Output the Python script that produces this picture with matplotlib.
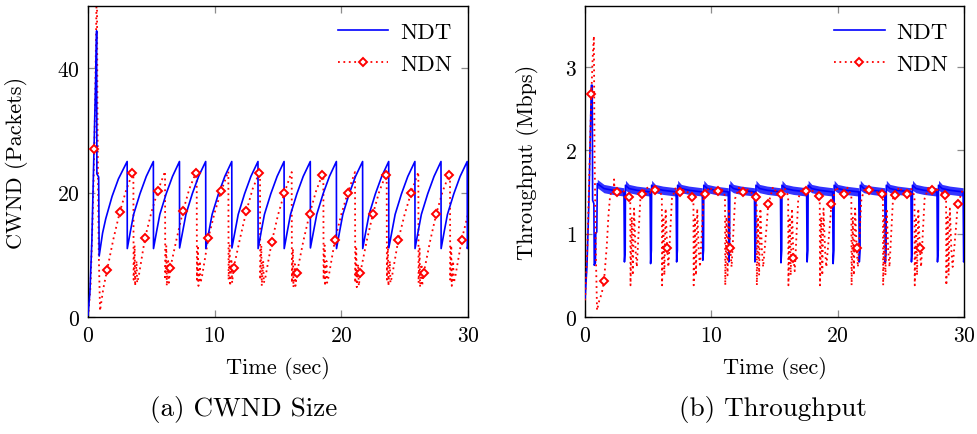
import numpy as np
import matplotlib
matplotlib.use("Agg")
import matplotlib.pyplot as plt
from matplotlib.lines import Line2D

plt.rcParams['font.family'] = 'cmr10'
plt.rcParams['mathtext.fontset'] = 'cm'
plt.rcParams['axes.formatter.use_mathtext'] = True

# ---- (a) CWND: NDT (blue solid) ----
ndt_cwnd_t = [
    0.0, 0.15, 0.3, 0.45, 0.6, 0.68, 0.7, 0.84, 0.88,
    1.15, 1.4, 1.9, 2.4, 3.09,
    3.10, 3.35, 3.60, 4.10, 4.60, 5.16,
    5.17, 5.42, 5.67, 6.17, 6.67, 7.22,
    7.23, 7.48, 7.73, 8.23, 8.73, 9.29,
    9.30, 9.55, 9.80, 10.30, 10.80, 11.35,
    11.36, 11.61, 11.86, 12.36, 12.86, 13.42,
    13.43, 13.68, 13.93, 14.43, 14.93, 15.48,
    15.49, 15.74, 15.99, 16.49, 16.99, 17.55,
    17.56, 17.81, 18.06, 18.56, 19.06, 19.61,
    19.62, 19.87, 20.12, 20.62, 21.12, 21.68,
    21.69, 21.94, 22.19, 22.69, 23.19, 23.74,
    23.75, 24.00, 24.25, 24.75, 25.25, 25.81,
    25.82, 26.07, 26.32, 26.82, 27.32, 27.87,
    27.88, 28.13, 28.38, 28.88, 29.38, 29.94,
    29.95, 30.0]
ndt_cwnd = [
    0.3, 4, 12, 25, 38, 46, 23, 22.5, 9.8,
    13.5, 15.8, 19.4, 22.2, 25.0,
    11.0, 13.8, 16.5, 19.8, 22.6, 25.0,
    11.0, 13.8, 16.5, 19.8, 22.6, 25.0,
    11.1, 13.8, 16.5, 19.8, 22.6, 25.0,
    11.0, 13.8, 16.5, 19.8, 22.6, 25.0,
    11.1, 13.8, 16.5, 19.8, 22.6, 25.0,
    11.0, 13.8, 16.5, 19.8, 22.6, 25.0,
    11.0, 13.8, 16.5, 19.8, 22.6, 25.0,
    11.1, 13.8, 16.5, 19.8, 22.6, 25.0,
    11.0, 13.8, 16.5, 19.8, 22.6, 25.0,
    11.0, 13.8, 16.5, 19.8, 22.6, 25.0,
    11.1, 13.8, 16.5, 19.8, 22.6, 25.0,
    11.0, 13.8, 16.5, 19.8, 22.6, 25.0,
    11.0, 13.8, 16.5, 19.8, 22.6, 25.0,
    11.0, 11.5]

# ---- (a) CWND: NDN (red dotted, markers at x.5 s) ----
ndn_cwnd_t = [
    0.0, 0.2, 0.35, 0.5, 0.6, 0.7, 0.75, 0.85, 0.95, 1.2, 1.5, 2.0, 2.5, 3.0, 3.5,
    3.58, 3.6, 3.68, 3.72, 3.83, 3.88, 4.0, 4.5, 5.0, 5.5, 6.0,
    6.08, 6.1, 6.18, 6.22, 6.33, 6.38, 6.5, 7.0, 7.5, 8.0, 8.5,
    8.58, 8.6, 8.68, 8.72, 8.83, 8.88, 9.0, 9.5, 10.0, 10.5, 11.0,
    11.08, 11.1, 11.18, 11.22, 11.33, 11.38, 11.5, 12.0, 12.5, 13.0, 13.5,
    13.58, 13.6, 13.68, 13.72, 13.83, 13.88, 14.0, 14.5, 15.0, 15.5, 16.0,
    16.08, 16.1, 16.18, 16.22, 16.33, 16.38, 16.5, 17.0, 17.5, 18.0, 18.5,
    18.58, 18.6, 18.68, 18.72, 18.83, 18.88, 19.0, 19.5, 20.0, 20.5, 21.0,
    21.08, 21.1, 21.18, 21.22, 21.33, 21.38, 21.5, 22.0, 22.5, 23.0, 23.5,
    23.58, 23.6, 23.68, 23.72, 23.83, 23.88, 24.0, 24.5, 25.0, 25.5, 26.0,
    26.08, 26.1, 26.18, 26.22, 26.33, 26.38, 26.5, 27.0, 27.5, 28.0, 28.5,
    28.58, 28.6, 28.68, 28.72, 28.83, 28.88, 29.0, 29.5, 30.0]
ndn_cwnd = [
    0.0, 5, 15, 27, 40, 55, 30, 10, 1.0, 4.5, 7.5, 12.5, 16.8, 20.3, 23.1,
    23.4, 6.0, 11.5, 5.0, 9.0, 5.5, 6.5, 12.7, 16.8, 20.2, 23.0,
    23.4, 6.0, 11.5, 5.0, 9.0, 5.5, 7.9, 12.6, 17.0, 20.6, 23.1,
    23.4, 6.0, 11.5, 5.0, 9.0, 5.5, 6.5, 12.7, 16.8, 20.2, 23.0,
    23.4, 6.0, 11.5, 5.0, 9.0, 5.5, 7.9, 12.6, 17.0, 20.6, 23.1,
    23.4, 6.0, 11.5, 5.0, 9.0, 5.5, 6.3, 12.0, 16.4, 19.9, 22.9,
    23.3, 5.5, 11.0, 4.8, 8.5, 5.0, 7.1, 12.2, 16.6, 20.2, 22.9,
    23.3, 6.0, 11.5, 5.0, 9.0, 5.5, 6.5, 12.4, 16.5, 19.9, 22.8,
    23.3, 5.5, 11.0, 4.8, 8.5, 5.0, 7.1, 12.2, 16.6, 20.2, 22.8,
    23.3, 6.0, 11.5, 5.0, 9.0, 5.5, 6.5, 12.4, 16.5, 19.9, 22.8,
    23.3, 5.5, 11.0, 4.8, 8.5, 5.0, 7.0, 12.1, 16.6, 20.2, 22.8,
    23.3, 6.0, 11.5, 5.0, 9.0, 5.5, 6.5, 12.4, 16.5]

# ---- (b) Throughput: NDT (blue, with jitter band half-width) ----
ndt_tput_t = [
    0.0, 0.15, 0.3, 0.42, 0.5, 0.57, 0.6, 0.7, 0.73, 0.82, 0.85, 0.93, 0.97, 1.5, 2.2,
    3.08, 3.12, 3.18, 3.20, 3.49, 4.09,
    5.15, 5.19, 5.25, 5.27, 5.56, 6.16,
    7.21, 7.25, 7.31, 7.33, 7.62, 8.22,
    9.28, 9.32, 9.38, 9.40, 9.69, 10.29,
    11.34, 11.38, 11.44, 11.46, 11.75, 12.35,
    13.41, 13.45, 13.51, 13.53, 13.82, 14.42,
    15.47, 15.51, 15.57, 15.59, 15.88, 16.48,
    17.54, 17.58, 17.64, 17.66, 17.95, 18.55,
    19.60, 19.64, 19.70, 19.72, 20.01, 20.61,
    21.67, 21.71, 21.77, 21.79, 22.08, 22.68,
    23.73, 23.77, 23.83, 23.85, 24.14, 24.74,
    25.80, 25.84, 25.90, 25.92, 26.21, 26.81,
    27.86, 27.90, 27.96, 27.98, 28.27, 28.87,
    29.93, 29.97, 30.0]
ndt_tput = [
    0.22, 0.6, 1.35, 2.2, 2.78, 2.78, 1.4, 1.36, 0.62, 0.65, 1.0, 1.02, 1.6, 1.54, 1.52,
    1.5, 0.66, 0.8, 1.58, 1.54, 1.52,
    1.5, 0.64, 0.8, 1.58, 1.54, 1.52,
    1.5, 0.66, 0.8, 1.58, 1.54, 1.52,
    1.5, 0.68, 0.8, 1.58, 1.54, 1.52,
    1.5, 0.66, 0.8, 1.58, 1.54, 1.52,
    1.5, 0.66, 0.8, 1.58, 1.54, 1.52,
    1.5, 0.65, 0.8, 1.58, 1.54, 1.52,
    1.5, 0.66, 0.8, 1.58, 1.54, 1.52,
    1.5, 0.64, 0.8, 1.58, 1.54, 1.52,
    1.5, 0.66, 0.8, 1.58, 1.54, 1.52,
    1.5, 0.65, 0.8, 1.58, 1.54, 1.52,
    1.5, 0.66, 0.8, 1.58, 1.54, 1.52,
    1.5, 0.66, 0.8, 1.58, 1.54, 1.52,
    1.5, 0.66, 0.7]
ndt_tput_spread = [
    0, 0, 0, 0, 0, 0, 0, 0, 0, 0, 0, 0, 0.05, 0.05, 0.05,
    0.05, 0, 0, 0.06, 0.05, 0.05,
    0.05, 0, 0, 0.06, 0.05, 0.05,
    0.05, 0, 0, 0.06, 0.05, 0.05,
    0.05, 0, 0, 0.06, 0.05, 0.05,
    0.05, 0, 0, 0.06, 0.05, 0.05,
    0.05, 0, 0, 0.06, 0.05, 0.05,
    0.05, 0, 0, 0.06, 0.05, 0.05,
    0.05, 0, 0, 0.06, 0.05, 0.05,
    0.05, 0, 0, 0.06, 0.05, 0.05,
    0.05, 0, 0, 0.06, 0.05, 0.05,
    0.05, 0, 0, 0.06, 0.05, 0.05,
    0.05, 0, 0, 0.06, 0.05, 0.05,
    0.05, 0, 0, 0.06, 0.05, 0.05,
    0.05, 0, 0]

# ---- (b) Throughput: NDN (red dotted, markers at x.5 s) ----
ndn_tput_t = [
    0.0, 0.2, 0.35, 0.5, 0.6, 0.7, 0.75, 0.85, 0.95, 1.13, 1.32, 1.5, 1.72, 1.85, 1.98,
    2.1, 2.28, 2.3, 2.33, 2.5, 2.9, 3.2, 3.5,
    3.58, 3.6, 3.7, 3.78, 3.88, 4.0, 4.1, 4.38, 4.5, 4.88, 5.18, 5.5, 5.78, 6.03,
    6.08, 6.1, 6.2, 6.28, 6.38, 6.5, 6.6, 6.88, 7.18, 7.5, 7.88, 8.18, 8.5,
    8.58, 8.6, 8.7, 8.78, 8.88, 9.0, 9.1, 9.38, 9.5, 9.88, 10.18, 10.5, 10.78, 11.03,
    11.08, 11.1, 11.2, 11.28, 11.38, 11.5, 11.6, 11.88, 12.18, 12.5, 12.88, 13.18, 13.5,
    13.58, 13.6, 13.7, 13.78, 13.88, 14.0, 14.1, 14.38, 14.5, 14.88, 15.18, 15.5, 15.78, 16.03,
    16.08, 16.1, 16.2, 16.28, 16.38, 16.5, 16.6, 16.88, 17.18, 17.5, 17.88, 18.18, 18.5,
    18.58, 18.6, 18.7, 18.78, 18.88, 19.0, 19.1, 19.38, 19.5, 19.88, 20.18, 20.5, 20.78, 21.03,
    21.08, 21.1, 21.2, 21.28, 21.38, 21.5, 21.6, 21.88, 22.18, 22.5, 22.88, 23.18, 23.5,
    23.58, 23.6, 23.7, 23.78, 23.88, 24.0, 24.1, 24.38, 24.5, 24.88, 25.18, 25.5, 25.78, 26.03,
    26.08, 26.1, 26.2, 26.28, 26.38, 26.5, 26.6, 26.88, 27.18, 27.5, 27.88, 28.18, 28.5,
    28.58, 28.6, 28.7, 28.78, 28.88, 29.0, 29.1, 29.38, 29.5, 29.88, 30.0]
ndn_tput = [
    0.2, 0.9, 1.8, 2.67, 3.1, 3.37, 2.0, 0.8, 0.08, 0.2, 0.28, 0.43, 0.85, 1.21, 1.45,
    1.5, 1.52, 1.65, 1.52, 1.5, 1.53, 1.49, 1.44,
    1.45, 0.38, 1.2, 0.5, 1.3, 0.8, 0.6, 1.42, 1.48, 1.56, 1.49, 1.52, 1.55, 1.47,
    1.45, 0.38, 1.2, 0.5, 1.3, 0.83, 0.6, 1.42, 1.55, 1.5, 1.53, 1.49, 1.44,
    1.45, 0.38, 1.2, 0.5, 1.3, 0.8, 0.6, 1.42, 1.48, 1.56, 1.49, 1.51, 1.55, 1.47,
    1.45, 0.38, 1.2, 0.5, 1.3, 0.83, 0.6, 1.42, 1.55, 1.5, 1.53, 1.49, 1.44,
    1.45, 0.38, 1.2, 0.5, 1.3, 0.8, 0.6, 1.1, 1.35, 1.56, 1.49, 1.47, 1.55, 1.47,
    1.45, 0.38, 1.2, 0.5, 1.3, 0.71, 0.55, 1.42, 1.55, 1.51, 1.53, 1.49, 1.45,
    1.45, 0.38, 1.2, 0.5, 1.3, 0.8, 0.6, 1.1, 1.35, 1.56, 1.49, 1.47, 1.55, 1.47,
    1.45, 0.38, 1.2, 0.5, 1.3, 0.83, 0.6, 1.42, 1.55, 1.52, 1.53, 1.49, 1.47,
    1.45, 0.38, 1.2, 0.5, 1.3, 0.8, 0.6, 1.42, 1.46, 1.56, 1.49, 1.48, 1.55, 1.47,
    1.45, 0.38, 1.2, 0.5, 1.3, 0.83, 0.6, 1.42, 1.55, 1.52, 1.53, 1.49, 1.46,
    1.45, 0.38, 1.2, 0.5, 1.3, 0.8, 0.6, 1.1, 1.35, 1.52, 1.5]

series_labels = ["NDT", "NDN"]
x_ticks = [0, 10, 20, 30]
cwnd_ticks = [0, 20, 40]
tput_ticks = [0, 1, 2, 3]

BLUE = "#0000ff"
RED = "#ff0000"
DOT = (0, (1, 2))
MS = 3.6


def style_axes(ax, yticks, ylim, ylabel, ylabel_x):
    ax.set_xlim(0, 30)
    ax.set_ylim(*ylim)
    ax.set_xticks(x_ticks)
    ax.set_yticks(yticks)
    ax.tick_params(direction="in", length=5, width=0.9, color="0.55",
                   top=True, right=True, labelsize=15.5, pad=6)
    for s in ax.spines.values():
        s.set_linewidth(1.0)
        s.set_color("black")
    ax.set_xlabel("Time (sec)", fontsize=16, labelpad=8)
    ax.set_ylabel(ylabel, fontsize=16)
    ax.yaxis.set_label_coords(ylabel_x, 0.5)


def red_markers(ax, t, v):
    t = np.asarray(t)
    v = np.asarray(v)
    m = np.isclose(t % 1, 0.5)
    ax.plot(t[m], v[m], ls="none", marker="D", ms=MS, mfc="white",
            mec=RED, mew=1.4, zorder=4, clip_on=True)


def add_legend(ax):
    handles = [
        Line2D([], [], color=BLUE, lw=1.2),
        Line2D([], [], color=RED, lw=1.3, ls=DOT, marker="D", ms=MS,
               mfc="white", mec=RED, mew=1.4),
    ]
    ax.legend(handles, series_labels, loc="upper right", frameon=False,
              fontsize=16.5, handlelength=2.2, labelspacing=0.5,
              borderaxespad=0.3, handletextpad=0.5)


fig = plt.figure(figsize=(9.78, 4.35), dpi=100)
ax1 = fig.add_axes([0.0900, 0.2690, 0.3885, 0.7149])
ax2 = fig.add_axes([0.5982, 0.2690, 0.3875, 0.7149])

# (a) CWND
ax1.plot(ndt_cwnd_t, ndt_cwnd, color=BLUE, lw=1.2, zorder=3)
ax1.plot(ndn_cwnd_t, ndn_cwnd, color=RED, lw=1.3, ls=DOT, zorder=2)
red_markers(ax1, ndn_cwnd_t, ndn_cwnd)
style_axes(ax1, cwnd_ticks, (0, 50), "CWND (Packets)", -0.158)
add_legend(ax1)

# (b) Throughput
lo = np.array(ndt_tput) - np.array(ndt_tput_spread)
hi = np.array(ndt_tput) + np.array(ndt_tput_spread)
ax2.fill_between(ndt_tput_t, lo, hi, color=BLUE, alpha=0.8, lw=0, zorder=2)
ax2.plot(ndt_tput_t, ndt_tput, color=BLUE, lw=1.2, zorder=3)
ax2.plot(ndn_tput_t, ndn_tput, color=RED, lw=1.3, ls=DOT, zorder=3)
red_markers(ax2, ndn_tput_t, ndn_tput)
style_axes(ax2, tput_ticks, (0, 3.73), "Throughput (Mbps)", -0.121)
add_legend(ax2)

fig.text(244 / 978, 1 - 410 / 435, "(a) CWND Size", ha="center", va="center", fontsize=19.5)
fig.text(773 / 978, 1 - 410 / 435, "(b) Throughput", ha="center", va="center", fontsize=19.5)

fig.savefig("out.png", dpi=100)
